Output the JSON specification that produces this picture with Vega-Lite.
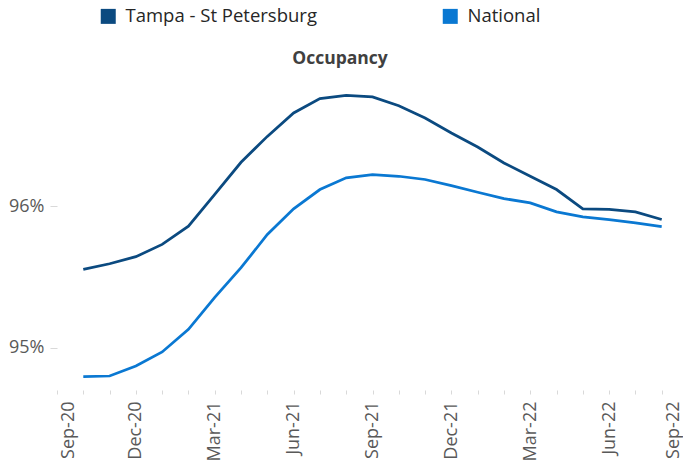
{
  "$schema": "https://vega.github.io/schema/vega-lite/v6.json",
  "width": 626,
  "height": 311,
  "autosize": {"type": "none"},
  "padding": {"left": 57, "top": 79, "right": 0, "bottom": 77},
  "background": "white",
  "title": {"text": "Occupancy", "anchor": "middle", "frame": "group", "dx": -30, "dy": 74, "offset": 14, "font": "Open Sans", "fontSize": 17.5, "fontWeight": "bold", "color": "#404040"},
  "config": {"view": {"stroke": null}, "font": "Open Sans"},
  "data": {"values": [
    {"month": "2020-10", "series": "Tampa - St Petersburg", "value": 95.553},
    {"month": "2020-11", "series": "Tampa - St Petersburg", "value": 95.593},
    {"month": "2020-12", "series": "Tampa - St Petersburg", "value": 95.643},
    {"month": "2021-01", "series": "Tampa - St Petersburg", "value": 95.730},
    {"month": "2021-02", "series": "Tampa - St Petersburg", "value": 95.859},
    {"month": "2021-03", "series": "Tampa - St Petersburg", "value": 96.083},
    {"month": "2021-04", "series": "Tampa - St Petersburg", "value": 96.311},
    {"month": "2021-05", "series": "Tampa - St Petersburg", "value": 96.494},
    {"month": "2021-06", "series": "Tampa - St Petersburg", "value": 96.660},
    {"month": "2021-07", "series": "Tampa - St Petersburg", "value": 96.761},
    {"month": "2021-08", "series": "Tampa - St Petersburg", "value": 96.784},
    {"month": "2021-09", "series": "Tampa - St Petersburg", "value": 96.773},
    {"month": "2021-10", "series": "Tampa - St Petersburg", "value": 96.711},
    {"month": "2021-11", "series": "Tampa - St Petersburg", "value": 96.624},
    {"month": "2021-12", "series": "Tampa - St Petersburg", "value": 96.518},
    {"month": "2022-01", "series": "Tampa - St Petersburg", "value": 96.419},
    {"month": "2022-02", "series": "Tampa - St Petersburg", "value": 96.306},
    {"month": "2022-03", "series": "Tampa - St Petersburg", "value": 96.212},
    {"month": "2022-04", "series": "Tampa - St Petersburg", "value": 96.118},
    {"month": "2022-05", "series": "Tampa - St Petersburg", "value": 95.982},
    {"month": "2022-06", "series": "Tampa - St Petersburg", "value": 95.977},
    {"month": "2022-07", "series": "Tampa - St Petersburg", "value": 95.960},
    {"month": "2022-08", "series": "Tampa - St Petersburg", "value": 95.906},
    {"month": "2020-10", "series": "National", "value": 94.795},
    {"month": "2020-11", "series": "National", "value": 94.799},
    {"month": "2020-12", "series": "National", "value": 94.870},
    {"month": "2021-01", "series": "National", "value": 94.969},
    {"month": "2021-02", "series": "National", "value": 95.129},
    {"month": "2021-03", "series": "National", "value": 95.355},
    {"month": "2021-04", "series": "National", "value": 95.565},
    {"month": "2021-05", "series": "National", "value": 95.800},
    {"month": "2021-06", "series": "National", "value": 95.982},
    {"month": "2021-07", "series": "National", "value": 96.118},
    {"month": "2021-08", "series": "National", "value": 96.201},
    {"month": "2021-09", "series": "National", "value": 96.224},
    {"month": "2021-10", "series": "National", "value": 96.212},
    {"month": "2021-11", "series": "National", "value": 96.189},
    {"month": "2021-12", "series": "National", "value": 96.146},
    {"month": "2022-01", "series": "National", "value": 96.099},
    {"month": "2022-02", "series": "National", "value": 96.054},
    {"month": "2022-03", "series": "National", "value": 96.024},
    {"month": "2022-04", "series": "National", "value": 95.960},
    {"month": "2022-05", "series": "National", "value": 95.925},
    {"month": "2022-06", "series": "National", "value": 95.906},
    {"month": "2022-07", "series": "National", "value": 95.883},
    {"month": "2022-08", "series": "National", "value": 95.855}
  ]},
  "mark": {"type": "line", "strokeWidth": 2.75},
  "encoding": {
    "x": {
      "field": "month",
      "type": "ordinal",
      "scale": {
        "type": "point",
        "domain": ["2020-09","2020-10","2020-11","2020-12","2021-01","2021-02","2021-03","2021-04","2021-05","2021-06","2021-07","2021-08","2021-09","2021-10","2021-11","2021-12","2022-01","2022-02","2022-03","2022-04","2022-05","2022-06","2022-07","2022-08","2022-09"],
        "range": [0, 631],
        "padding": 0
      },
      "axis": {
        "title": null,
        "domain": false,
        "grid": false,
        "labelAngle": -90,
        "labelOverlap": false,
        "labelExpr": "indexof(['09','12','03','06'], substring(datum.value,5,7)) >= 0 ? ['Jan','Feb','Mar','Apr','May','Jun','Jul','Aug','Sep','Oct','Nov','Dec'][toNumber(substring(datum.value,5,7))-1] + '-' + substring(datum.value,2,4) : ''",
        "labelFont": "Open Sans",
        "labelFontSize": 18,
        "labelColor": "#595959",
        "labelPadding": 7,
        "tickColor": "#D9D9D9",
        "tickSize": 4,
        "labelOffset": {"condition": [{"test": "datum.value == '2020-09'", "value": 11}, {"test": "datum.value == '2022-09'", "value": -15}], "value": 0}
      }
    },
    "y": {
      "field": "value",
      "type": "quantitative",
      "scale": {"domain": [94.7, 96.9], "zero": false, "nice": false},
      "axis": {
        "title": null,
        "values": [95, 96],
        "domain": false,
        "grid": false,
        "labelExpr": "format(datum.value, '.0f') + '%'",
        "labelFont": "Open Sans",
        "labelFontSize": 18,
        "labelColor": "#595959",
        "labelPadding": 6,
        "tickColor": "#D9D9D9",
        "tickSize": 7
      }
    },
    "color": {
      "field": "series",
      "type": "nominal",
      "scale": {"domain": ["Tampa - St Petersburg", "National"], "range": ["#0B4A80", "#0A78D2"]},
      "legend": {
        "title": null,
        "orient": "none",
        "legendX": 42,
        "legendY": -72,
        "direction": "horizontal",
        "symbolType": "square",
        "symbolSize": 225,
        "symbolStrokeWidth": 0,
        "labelFont": "Open Sans",
        "labelFontSize": 18.5,
        "labelColor": "#262626",
        "labelOffset": 8,
        "labelLimit": 400,
        "columnPadding": 124,
        "padding": 0,
        "encode": {"symbols": {"update": {"fill": {"scale": "color", "field": "value"}, "fillOpacity": {"value": 1}, "strokeWidth": {"value": 0}}}}
      }
    }
  }
}
